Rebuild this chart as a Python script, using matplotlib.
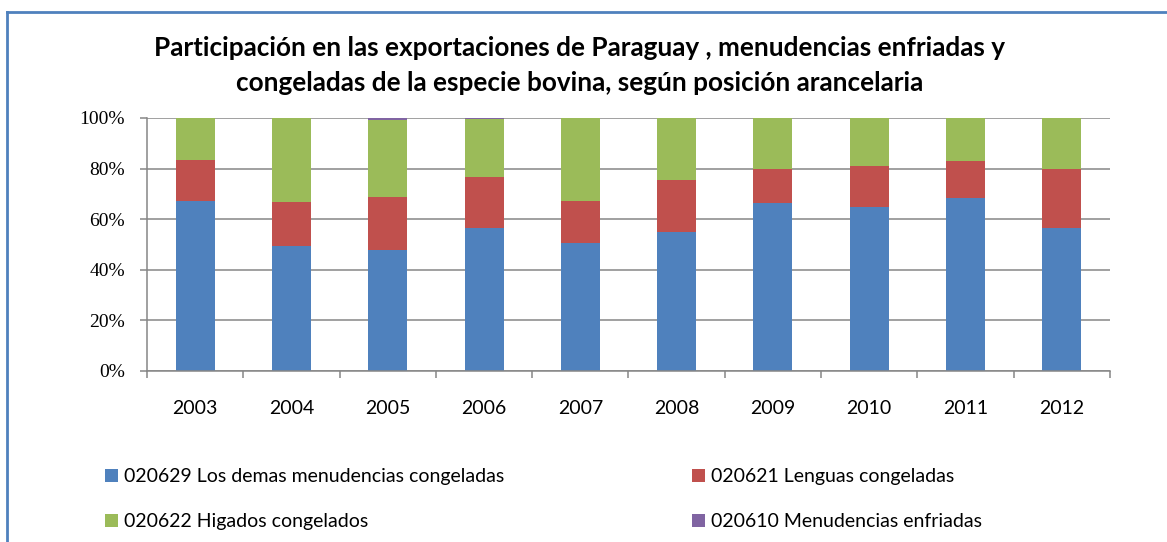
import numpy as np
import matplotlib.pyplot as plt
from matplotlib.lines import Line2D

years = ["2003", "2004", "2005", "2006", "2007", "2008", "2009", "2010", "2011", "2012"]

# shares in percent
demas = np.array([67.2, 49.6, 48.0, 56.7, 50.4, 55.0, 66.4, 64.9, 68.4, 56.6])
lenguas = np.array([16.2, 17.2, 20.8, 20.0, 16.8, 20.5, 13.5, 16.2, 14.6, 23.3])
enfriadas = np.array([0.0, 0.0, 0.6, 0.5, 0.0, 0.0, 0.0, 0.0, 0.0, 0.0])
higados = 100 - demas - lenguas - enfriadas

labels = ["020629 Los demas menudencias congeladas", "020621 Lenguas congeladas",
          "020622 Higados congelados", "020610 Menudencias enfriadas"]
colors = ["#4F81BD", "#C0504D", "#9BBB59", "#8064A2"]

fig = plt.figure(figsize=(11.67, 5.42), dpi=100)
ax = fig.add_axes([0.126, 0.3155, 0.825, 0.4668])

x = np.arange(len(years))
w = 0.405
b1 = ax.bar(x, demas, w, color=colors[0], zorder=2)
b2 = ax.bar(x, lenguas, w, bottom=demas, color=colors[1], zorder=2)
b3 = ax.bar(x, higados, w, bottom=demas + lenguas, color=colors[2], zorder=2)
b4 = ax.bar(x, enfriadas, w, bottom=demas + lenguas + higados, color=colors[3], zorder=2)

ax.set_xlim(-0.5, len(years) - 0.5)
ax.set_ylim(0, 100)
ax.set_yticks(np.arange(0, 101, 20))
ax.set_yticklabels([f"{v}%" for v in range(0, 101, 20)], family="Liberation Serif", fontsize=14)
ax.yaxis.grid(True, color="#868686", linewidth=1.1, zorder=0)

ax.set_xticks(x)
ax.set_xticklabels(years, family="Lato", fontsize=14)
ax.set_xticks(np.arange(-0.5, len(years)), minor=True)
ax.tick_params(axis="x", which="major", length=0, pad=21)
ax.tick_params(axis="x", which="minor", length=5, color="#868686", width=1.1)
ax.tick_params(axis="y", length=5, color="#868686", width=1.1, pad=11)

for s in ["top", "right"]:
    ax.spines[s].set_visible(False)
for s in ["left", "bottom"]:
    ax.spines[s].set_color("#868686")
    ax.spines[s].set_linewidth(1.1)

fig.text(0.497, 0.912, "Participación en las exportaciones de Paraguay , menudencias enfriadas y",
         ha="center", va="center", family="Lato", fontweight="bold", fontsize=18.8)
fig.text(0.497, 0.847, "congeladas de la especie bovina, según posición arancelaria",
         ha="center", va="center", family="Lato", fontweight="bold", fontsize=18.8)

leg_kw = dict(frameon=False, prop={"family": "Lato", "size": 14}, handlelength=0.65,
              handleheight=0.65, handletextpad=0.35, labelspacing=1.42, loc="upper left",
              borderaxespad=0, borderpad=0)
fig.legend([b1, b3], [labels[0], labels[2]], bbox_to_anchor=(0.090, 0.136), **leg_kw)
fig.legend([b2, b4], [labels[1], labels[3]], bbox_to_anchor=(0.593, 0.136), **leg_kw)

# chart border (cut off on the right and bottom)
fig.add_artist(Line2D([0.006, 1.0], [0.978, 0.978], color="#4F81BD", linewidth=2, transform=fig.transFigure))
fig.add_artist(Line2D([0.006, 0.006], [0.0, 0.978], color="#4F81BD", linewidth=2, transform=fig.transFigure))

fig.savefig("out.png", dpi=100)
